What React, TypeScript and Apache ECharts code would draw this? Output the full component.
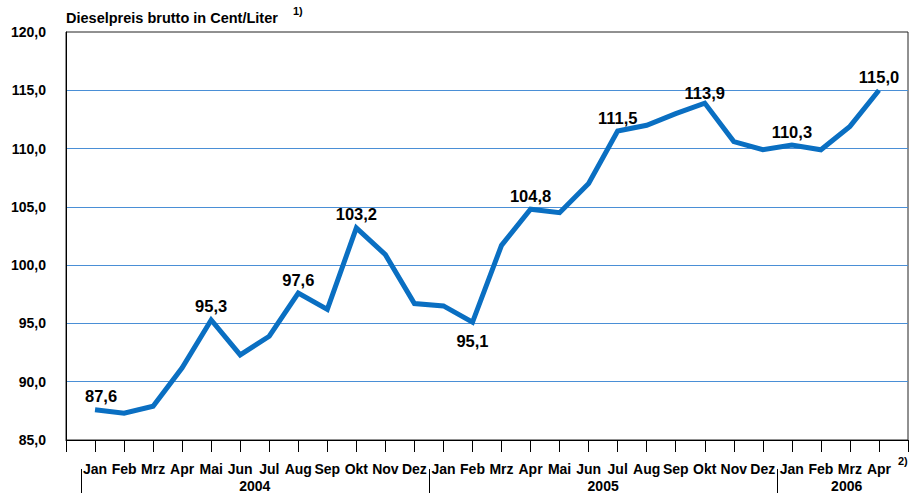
import React, { useEffect, useRef } from "react";
import * as echarts from "echarts";

const monthLabels = [
  "Jan", "Feb", "Mrz", "Apr", "Mai", "Jun", "Jul", "Aug", "Sep", "Okt", "Nov", "Dez",
  "Jan", "Feb", "Mrz", "Apr", "Mai", "Jun", "Jul", "Aug", "Sep", "Okt", "Nov", "Dez",
  "Jan", "Feb", "Mrz", "Apr",
];

const prices = [
  87.6, 87.3, 87.9, 91.2, 95.3, 92.3, 93.9, 97.6, 96.2, 103.2, 100.9, 96.7,
  96.5, 95.1, 101.7, 104.8, 104.5, 107.0, 111.5, 112.0, 113.0, 113.9, 110.6, 109.9,
  110.3, 109.9, 111.9, 115.0,
];

// indices of labelled points and where the label sits
const labelledTop = [0, 4, 7, 9, 15, 18, 21, 24, 27];
const labelledBottom = [13];

const years = [
  { label: "2004", first: 0, last: 11 },
  { label: "2005", first: 12, last: 23 },
  { label: "2006", first: 24, last: 27 },
];

const yTicks = { min: 85, max: 120, step: 5 };

const FONT = "'Liberation Sans', Arial, sans-serif";
const fmt = (v: number) => v.toFixed(1).replace(".", ",");

export default function App() {
  const ref = useRef<HTMLDivElement>(null);

  useEffect(() => {
    if (!ref.current) return;
    const chart = echarts.init(ref.current, null, { renderer: "svg" });

    const data = prices.map((v, i) => {
      const item: any = { value: [i, v] };
      if (labelledTop.includes(i)) {
        item.label = {
          show: true,
          position: "top",
          distance: i === 21 ? 2 : 5,
          offset: i === 0 ? [6, 0] : [0, 0],
        };
      } else if (labelledBottom.includes(i)) {
        item.label = { show: true, position: "bottom", distance: 10 };
      }
      return item;
    });

    chart.setOption({
      animation: false,
      backgroundColor: "#ffffff",
      grid: {
        left: 66,
        right: 1,
        top: 32,
        bottom: 53,
        show: true,
        borderColor: "#222",
        borderWidth: 1,
        backgroundColor: "transparent",
      },
      xAxis: {
        type: "value",
        min: -1,
        max: prices.length,
        interval: 1,
        axisLine: { show: true, onZero: false, lineStyle: { color: "#000", width: 1 } },
        axisTick: { show: true, length: 12, lineStyle: { color: "#000", width: 1 } },
        splitLine: { show: false },
        axisLabel: {
          margin: 22,
          color: "#000",
          fontFamily: FONT,
          fontWeight: "bold",
          fontSize: 14,
          showMinLabel: true,
          showMaxLabel: true,
          formatter: (v: number) =>
            v >= 0 && v < monthLabels.length ? monthLabels[v] : "",
        },
      },
      yAxis: {
        type: "value",
        min: yTicks.min,
        max: yTicks.max,
        interval: yTicks.step,
        axisLine: { show: true, onZero: false, lineStyle: { color: "#000", width: 1 } },
        axisTick: { show: false },
        axisLabel: {
          margin: 20,
          color: "#000",
          fontFamily: FONT,
          fontWeight: "bold",
          fontSize: 14,
          formatter: (v: number) => fmt(v),
        },
        splitLine: {
          show: true,
          showMinLine: false,
          showMaxLine: false,
          lineStyle: { color: "#4a8fd6", width: 1 },
        },
      },
      series: [
        {
          type: "line",
          data,
          symbol: "circle",
          symbolSize: 0,
          showSymbol: true,
          itemStyle: { color: "#0a6fc2" },
          lineStyle: { color: "#0a6fc2", width: 5, join: "miter" },
          label: {
            show: false,
            color: "#000",
            fontFamily: FONT,
            fontWeight: "bold",
            fontSize: 16.5,
            formatter: (p: any) => fmt(p.value[1]),
          },
        },
      ],
    });

    const px = (i: number) => chart.convertToPixel({ xAxisIndex: 0 }, i) as number;
    const plotRight = px(prices.length);
    const graphic: any[] = [];

    years.forEach((y, k) => {
      const left = (px(y.first - 1) + px(y.first)) / 2;
      const right = k === years.length - 1 ? plotRight : (px(y.last) + px(y.last + 1)) / 2;
      graphic.push({
        type: "line",
        shape: { x1: Math.round(left) + 0.5, y1: 469, x2: Math.round(left) + 0.5, y2: 493 },
        style: { stroke: "#000", lineWidth: 1 },
      });
      graphic.push({
        type: "text",
        x: (left + right) / 2 + (k === years.length - 1 ? 4 : 0),
        y: 486,
        style: {
          text: y.label,
          fill: "#000",
          font: `bold 14px ${FONT}`,
          textAlign: "center",
          textVerticalAlign: "middle",
        },
      });
    });

    graphic.push({
      type: "text",
      x: 66,
      y: 18,
      style: {
        text: "Dieselpreis brutto in Cent/Liter",
        fill: "#000",
        font: `bold 14.5px ${FONT}`,
        textAlign: "left",
        textVerticalAlign: "middle",
      },
    });
    graphic.push({
      type: "text",
      x: 293,
      y: 11,
      style: {
        text: "1)",
        fill: "#000",
        font: `bold 11px ${FONT}`,
        textAlign: "left",
        textVerticalAlign: "middle",
      },
    });
    graphic.push({
      type: "text",
      x: 898,
      y: 461,
      style: {
        text: "2)",
        fill: "#000",
        font: `bold 11px ${FONT}`,
        textAlign: "left",
        textVerticalAlign: "middle",
      },
    });

    chart.setOption({ graphic });

    return () => chart.dispose();
  }, []);

  return (
    <div
      ref={ref}
      style={{ position: "fixed", left: 0, top: 0, width: 911, height: 493, background: "#fff" }}
    />
  );
}
